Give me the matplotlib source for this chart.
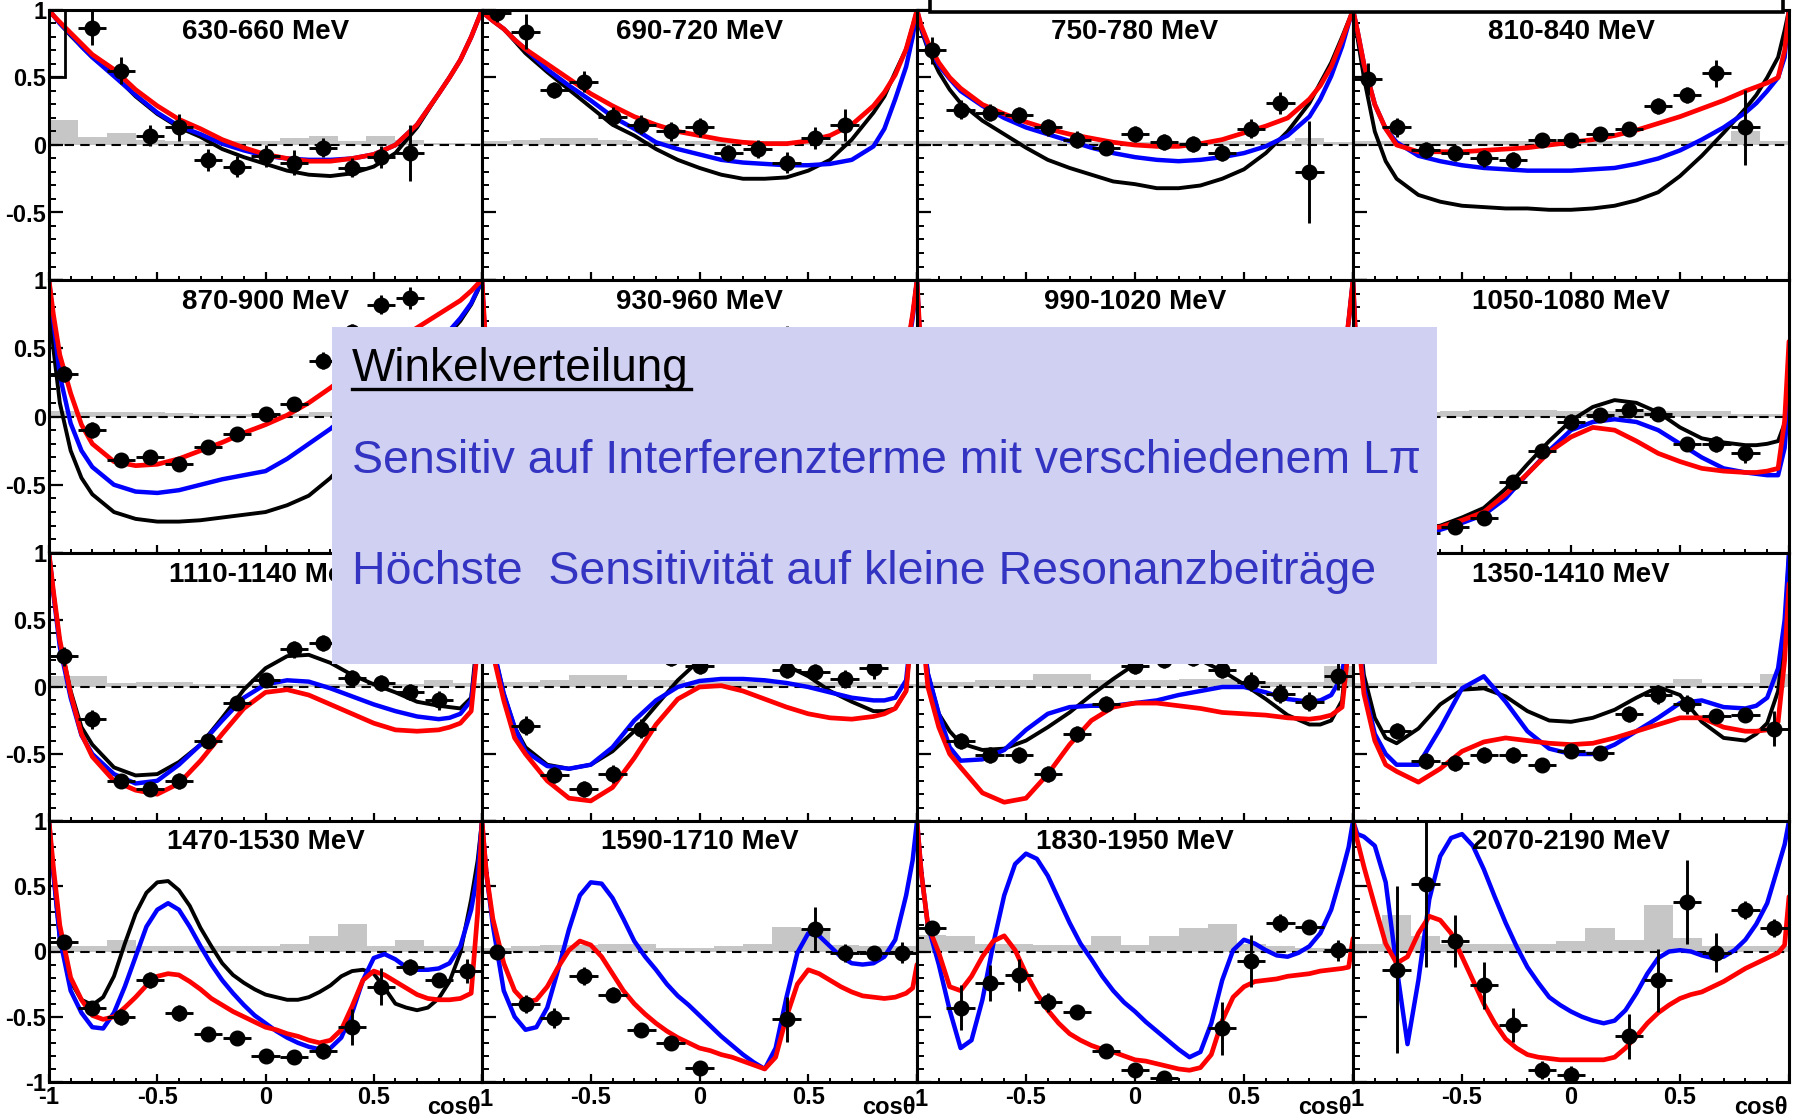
import numpy as np
import matplotlib
matplotlib.use("Agg")
import matplotlib.pyplot as plt
from matplotlib.patches import Rectangle
from matplotlib.lines import Line2D
from matplotlib.ticker import MultipleLocator

plt.rcParams['font.family'] = ['Liberation Sans', 'DejaVu Sans']

# ---------------- data ----------------
# titles of panels 10 and 11 are covered by the text box in the reference
TITLES = ["630-660 MeV", "690-720 MeV", "750-780 MeV", "810-840 MeV",
          "870-900 MeV", "930-960 MeV", "990-1020 MeV", "1050-1080 MeV",
          "1110-1140 MeV", "", "", "1350-1410 MeV",
          "1470-1530 MeV", "1590-1710 MeV", "1830-1950 MeV", "2070-2190 MeV"]

BIN_X = [-0.933, -0.8, -0.667, -0.533, -0.4, -0.267, -0.133, 0.0,
         0.133, 0.267, 0.4, 0.533, 0.667, 0.8, 0.933]

N = None
POINT_Y = [
    [N, 0.87, 0.55, 0.07, 0.13, -0.11, -0.16, -0.08, -0.13, -0.02, -0.17, -0.09, -0.06, N, N],
    [0.98, 0.84, 0.41, 0.47, 0.21, 0.15, 0.10, 0.13, -0.06, -0.03, -0.13, 0.05, 0.15, N, N],
    [0.70, 0.26, 0.24, 0.22, 0.13, 0.04, -0.02, 0.08, 0.02, 0.01, -0.06, 0.12, 0.31, -0.20, N],
    [0.49, 0.13, -0.04, -0.06, -0.10, -0.11, 0.04, 0.04, 0.08, 0.12, 0.29, 0.37, 0.53, 0.13, N],
    [0.31, -0.10, -0.32, -0.30, -0.35, -0.22, -0.13, 0.02, 0.09, 0.41, 0.62, 0.82, 0.87, N, N],
    [N, -0.45, -0.70, -0.75, -0.70, -0.55, -0.35, -0.15, 0.05, 0.20, 0.55, 0.40, 0.30, 0.20, N],
    [N, -0.60, -0.78, -0.82, -0.75, -0.58, -0.36, -0.12, 0.05, 0.12, 0.10, 0.00, -0.05, -0.10, N],
    [N, -0.78, -0.85, -0.81, -0.74, -0.48, -0.25, -0.04, 0.01, 0.05, 0.02, -0.20, -0.20, -0.27, N],
    [0.23, -0.24, -0.70, -0.76, -0.70, -0.40, -0.12, 0.05, 0.28, 0.33, 0.07, 0.03, -0.04, -0.10, N],
    [N, -0.29, -0.66, -0.76, -0.65, -0.31, 0.22, 0.16, 0.30, 0.28, 0.13, 0.11, 0.06, 0.14, N],
    [N, -0.40, -0.51, -0.51, -0.65, -0.35, -0.13, 0.16, 0.20, 0.22, 0.13, 0.04, -0.05, -0.11, 0.08],
    [N, -0.33, -0.55, -0.57, -0.51, -0.51, -0.58, -0.48, -0.49, -0.20, -0.06, -0.13, -0.22, -0.21, -0.31],
    [0.07, -0.43, -0.50, -0.22, -0.47, -0.63, -0.66, -0.80, -0.81, -0.76, -0.58, -0.27, -0.12, -0.22, -0.15],
    [0.00, -0.40, -0.51, -0.19, -0.33, -0.60, -0.70, -0.89, N, N, -0.52, 0.17, -0.01, -0.01, -0.01],
    [0.18, -0.43, -0.24, -0.18, -0.39, -0.46, -0.76, -0.91, -0.97, N, -0.59, -0.07, 0.22, 0.19, 0.01],
    [N, -0.14, 0.52, 0.08, -0.26, -0.56, -0.91, -0.95, N, -0.65, -0.22, 0.38, -0.01, 0.32, 0.18],
]

POINT_ERR = [
    [0, 0.13, 0.10, 0.08, 0.10, 0.08, 0.08, 0.08, 0.09, 0.07, 0.07, 0.08, 0.21, 0, 0],
    [0.07, 0.13, 0.06, 0.08, 0.07, 0.07, 0.07, 0.07, 0.06, 0.07, 0.08, 0.08, 0.12, 0, 0],
    [0.10, 0.07, 0.06, 0.06, 0.06, 0.06, 0.05, 0.06, 0.06, 0.06, 0.06, 0.07, 0.08, 0.38, 0],
    [0.12, 0.07, 0.06, 0.06, 0.06, 0.06, 0.05, 0.05, 0.05, 0.05, 0.06, 0.06, 0.10, 0.28, 0],
    [0.06, 0.06, 0.05, 0.05, 0.05, 0.05, 0.05, 0.05, 0.05, 0.06, 0.06, 0.07, 0.08, 0, 0],
    [0, 0.06, 0.06, 0.06, 0.06, 0.06, 0.06, 0.06, 0.06, 0.06, 0.11, 0.07, 0.07, 0.08, 0],
    [0, 0.06, 0.06, 0.06, 0.06, 0.06, 0.06, 0.06, 0.06, 0.06, 0.06, 0.07, 0.07, 0.08, 0],
    [0, 0.05, 0.05, 0.05, 0.05, 0.05, 0.05, 0.06, 0.05, 0.05, 0.05, 0.05, 0.06, 0.07, 0],
    [0.07, 0.07, 0.05, 0.05, 0.06, 0.05, 0.05, 0.05, 0.06, 0.06, 0.06, 0.06, 0.06, 0.07, 0],
    [0, 0.07, 0.06, 0.06, 0.07, 0.07, 0.06, 0.06, 0.06, 0.06, 0.06, 0.06, 0.07, 0.08, 0],
    [0, 0.06, 0.06, 0.06, 0.06, 0.06, 0.06, 0.06, 0.06, 0.06, 0.06, 0.07, 0.07, 0.07, 0.10],
    [0, 0.06, 0.06, 0.06, 0.06, 0.06, 0.05, 0.05, 0.05, 0.06, 0.07, 0.07, 0.05, 0.05, 0.13],
    [0.05, 0.05, 0.06, 0.06, 0.06, 0.05, 0.05, 0.05, 0.05, 0.06, 0.14, 0.14, 0.06, 0.05, 0.09],
    [0.04, 0.07, 0.08, 0.07, 0.06, 0.05, 0.05, 0.05, 0, 0, 0.17, 0.17, 0.07, 0.05, 0.08],
    [0.05, 0.17, 0.14, 0.12, 0.07, 0.05, 0.05, 0.05, 0.05, 0, 0.20, 0.20, 0.07, 0.05, 0.08],
    [0, 0.64, 0.64, 0.20, 0.18, 0.13, 0.07, 0.07, 0, 0.17, 0.24, 0.32, 0.15, 0.07, 0.07],
]

SYST = [
    [0.185, 0.062, 0.09, 0.04, 0.03, 0.03, 0.03, 0.03, 0.054, 0.067, 0.03, 0.067, 0.04, 0.017, 0.017],
    [0.03, 0.04, 0.05, 0.05, 0.04, 0.03, 0.03, 0.03, 0.03, 0.03, 0.03, 0.03, 0.03, 0.03, 0.03],
    [0.03, 0.03, 0.03, 0.03, 0.03, 0.02, 0.02, 0.02, 0.02, 0.02, 0.03, 0.03, 0.03, 0.05, 0.02],
    [0.03, 0.03, 0.03, 0.03, 0.03, 0.03, 0.03, 0.03, 0.03, 0.03, 0.03, 0.03, 0.03, 0.10, 0.03],
    [0.04, 0.03, 0.03, 0.03, 0.025, 0.02, 0.02, 0.02, 0.02, 0.03, 0.03, 0.03, 0.03, 0.03, 0.03],
    [0.03, 0.03, 0.03, 0.03, 0.03, 0.03, 0.03, 0.03, 0.03, 0.03, 0.03, 0.03, 0.03, 0.03, 0.03],
    [0.03, 0.03, 0.03, 0.03, 0.03, 0.03, 0.03, 0.03, 0.03, 0.03, 0.03, 0.03, 0.03, 0.03, 0.03],
    [0.03, 0.03, 0.03, 0.04, 0.05, 0.05, 0.05, 0.04, 0.04, 0.04, 0.04, 0.04, 0.04, 0.02, 0.02],
    [0.08, 0.08, 0.03, 0.04, 0.04, 0.02, 0.02, 0.02, 0.02, 0.02, 0.02, 0.02, 0.02, 0.05, 0.03],
    [0.04, 0.04, 0.05, 0.09, 0.09, 0.05, 0.05, 0.04, 0.04, 0.04, 0.04, 0.04, 0.04, 0.04, 0.02],
    [0.04, 0.04, 0.05, 0.05, 0.10, 0.10, 0.05, 0.05, 0.05, 0.06, 0.06, 0.04, 0.04, 0.04, 0.16],
    [0.03, 0.03, 0.04, 0.03, 0.03, 0.03, 0.03, 0.03, 0.03, 0.03, 0.03, 0.06, 0.03, 0.03, 0.10],
    [0.04, 0.04, 0.09, 0.04, 0.04, 0.04, 0.04, 0.04, 0.06, 0.12, 0.21, 0.04, 0.09, 0.04, 0.04],
    [0.03, 0.04, 0.05, 0.05, 0.06, 0.06, 0.03, 0.03, 0.04, 0.06, 0.19, 0.17, 0.05, 0.04, 0.04],
    [0.13, 0.12, 0.06, 0.06, 0.05, 0.05, 0.12, 0.05, 0.12, 0.18, 0.21, 0.06, 0.04, 0.03, 0.03],
    [0.06, 0.28, 0.12, 0.06, 0.06, 0.06, 0.06, 0.08, 0.18, 0.09, 0.36, 0.10, 0.04, 0.04, 0.04],
]

# curve sampling in cos(theta): coarse grid (rows 1-3) and fine grid (row 4)
GRID_A = [-1, -0.98, -0.95, -0.9, -0.85, -0.8, -0.7, -0.6, -0.5, -0.4, -0.3, -0.2, -0.1, 0,
          0.1, 0.2, 0.3, 0.4, 0.5, 0.6, 0.7, 0.8, 0.85, 0.9, 0.95, 0.98, 1]
GRID_B = [-1, -0.98, -0.95, -0.9, -0.85, -0.8, -0.75, -0.7, -0.65, -0.6, -0.55, -0.5, -0.45,
          -0.4, -0.35, -0.3, -0.25, -0.2, -0.15, -0.1, -0.05, 0, 0.05, 0.1, 0.15, 0.2, 0.25,
          0.3, 0.35, 0.4, 0.45, 0.5, 0.55, 0.6, 0.65, 0.7, 0.75, 0.8, 0.85, 0.9, 0.95, 0.98, 1]

CURVE_BLACK = [
    [1, 0.96, 0.9, 0.81, 0.73, 0.65, 0.52, 0.36, 0.23, 0.13, 0.06, -0.03, -0.09, -0.14, -0.19, -0.22, -0.23, -0.21, -0.16, -0.06, 0.13, 0.38, 0.5, 0.63, 0.8, 0.92, 1],
    [1, 0.96, 0.92, 0.86, 0.77, 0.68, 0.54, 0.41, 0.28, 0.15, 0.07, -0.03, -0.11, -0.17, -0.22, -0.25, -0.25, -0.24, -0.19, -0.11, 0.04, 0.24, 0.36, 0.54, 0.71, 0.88, 1],
    [1, 0.85, 0.71, 0.54, 0.41, 0.31, 0.18, 0.08, -0.02, -0.11, -0.17, -0.22, -0.27, -0.29, -0.32, -0.32, -0.30, -0.25, -0.18, -0.06, 0.10, 0.31, 0.46, 0.61, 0.80, 0.92, 1],
    [1, 0.8, 0.5, 0.1, -0.12, -0.25, -0.37, -0.42, -0.45, -0.46, -0.47, -0.47, -0.48, -0.48, -0.47, -0.45, -0.41, -0.35, -0.23, -0.08, 0.09, 0.27, 0.37, 0.5, 0.65, 0.85, 1],
    [1, 0.5, 0.1, -0.25, -0.45, -0.57, -0.7, -0.75, -0.77, -0.77, -0.76, -0.74, -0.72, -0.70, -0.65, -0.58, -0.45, -0.28, -0.08, 0.12, 0.32, 0.52, 0.61, 0.70, 0.82, 0.92, 1],
    [1, 0.4, -0.1, -0.5, -0.68, -0.77, -0.84, -0.84, -0.8, -0.72, -0.6, -0.45, -0.28, -0.12, 0.02, 0.12, 0.18, 0.2, 0.17, 0.12, 0.07, 0.05, 0.08, 0.2, 0.45, 0.75, 1],
    [1, 0.35, -0.2, -0.55, -0.72, -0.8, -0.86, -0.86, -0.8, -0.7, -0.55, -0.38, -0.2, -0.05, 0.07, 0.12, 0.12, 0.07, 0.0, -0.06, -0.1, -0.12, -0.1, 0.0, 0.3, 0.7, 1],
    [1, 0.3, -0.3, -0.6, -0.72, -0.78, -0.82, -0.8, -0.74, -0.67, -0.53, -0.35, -0.18, -0.03, 0.07, 0.12, 0.10, 0.03, -0.08, -0.16, -0.19, -0.21, -0.21, -0.2, -0.18, -0.05, 0.3],
    [1, 0.71, 0.34, -0.03, -0.30, -0.43, -0.60, -0.66, -0.65, -0.56, -0.43, -0.23, -0.02, 0.14, 0.23, 0.24, 0.18, 0.09, 0.02, -0.04, -0.11, -0.14, -0.15, -0.16, -0.08, 0.4, 1],
    [1, 0.6, 0.3, -0.05, -0.3, -0.45, -0.58, -0.61, -0.58, -0.48, -0.33, -0.14, 0.05, 0.2, 0.3, 0.33, 0.3, 0.16, 0.08, -0.03, -0.11, -0.18, -0.18, -0.16, -0.03, 0.5, 1],
    [1, 0.5, 0.1, -0.2, -0.33, -0.42, -0.47, -0.46, -0.40, -0.30, -0.19, -0.06, 0.06, 0.17, 0.27, 0.3, 0.2, 0.12, 0.02, -0.09, -0.21, -0.28, -0.28, -0.25, -0.1, 0.4, 1],
    [1, 0.55, 0.09, -0.23, -0.38, -0.42, -0.31, -0.13, -0.02, -0.01, -0.07, -0.18, -0.25, -0.26, -0.23, -0.17, -0.08, 0.0, -0.06, -0.26, -0.38, -0.40, -0.35, -0.27, -0.03, 0.4, 1],
    [1, 0.6, 0.1, -0.23, -0.37, -0.41, -0.35, -0.19, 0.06, 0.29, 0.45, 0.53, 0.54, 0.47, 0.35, 0.18, 0.04, -0.09, -0.18, -0.24, -0.29, -0.33, -0.35, -0.37, -0.37, -0.35, -0.31, -0.26, -0.19, -0.15, -0.14, -0.17, -0.28, -0.40, -0.43, -0.45, -0.43, -0.36, -0.23, -0.01, 0.40, 0.7, 1],
    None, None, None,
]

CURVE_BLUE = [
    [1, 0.96, 0.9, 0.82, 0.73, 0.65, 0.51, 0.37, 0.24, 0.14, 0.08, 0.01, -0.04, -0.08, -0.1, -0.11, -0.11, -0.1, -0.07, 0.0, 0.15, 0.38, 0.5, 0.63, 0.8, 0.92, 1],
    [1, 0.96, 0.92, 0.86, 0.78, 0.71, 0.56, 0.44, 0.33, 0.21, 0.12, 0.02, -0.03, -0.07, -0.11, -0.13, -0.14, -0.15, -0.15, -0.14, -0.11, -0.01, 0.12, 0.34, 0.58, 0.8, 1],
    [1, 0.87, 0.73, 0.59, 0.49, 0.40, 0.29, 0.20, 0.13, 0.08, 0.03, -0.02, -0.06, -0.09, -0.11, -0.12, -0.11, -0.09, -0.06, -0.01, 0.07, 0.21, 0.34, 0.51, 0.73, 0.9, 1],
    [1, 0.85, 0.6, 0.3, 0.12, 0.02, -0.08, -0.12, -0.15, -0.17, -0.18, -0.19, -0.19, -0.19, -0.18, -0.17, -0.14, -0.10, -0.04, 0.04, 0.13, 0.24, 0.31, 0.40, 0.50, 0.65, 1],
    [1, 0.7, 0.3, -0.05, -0.25, -0.37, -0.5, -0.55, -0.56, -0.54, -0.5, -0.46, -0.43, -0.40, -0.31, -0.2, -0.09, 0.04, 0.17, 0.3, 0.43, 0.56, 0.63, 0.72, 0.83, 0.93, 1],
    [1, 0.4, -0.1, -0.5, -0.68, -0.76, -0.8, -0.78, -0.72, -0.62, -0.5, -0.36, -0.22, -0.1, 0.0, 0.06, 0.08, 0.07, 0.03, -0.02, -0.06, -0.07, -0.04, 0.08, 0.4, 0.72, 1],
    [1, 0.35, -0.2, -0.55, -0.72, -0.8, -0.85, -0.84, -0.78, -0.67, -0.52, -0.36, -0.2, -0.08, 0.0, 0.03, 0.02, -0.02, -0.08, -0.14, -0.18, -0.2, -0.18, -0.05, 0.3, 0.7, 1],
    [1, 0.3, -0.3, -0.6, -0.73, -0.8, -0.84, -0.83, -0.78, -0.72, -0.6, -0.42, -0.25, -0.1, -0.04, -0.02, -0.04, -0.1, -0.2, -0.3, -0.38, -0.41, -0.42, -0.43, -0.43, -0.23, 0.17],
    [1, 0.70, 0.30, -0.08, -0.36, -0.50, -0.65, -0.72, -0.70, -0.58, -0.43, -0.25, -0.08, 0.02, 0.05, 0.04, -0.01, -0.07, -0.13, -0.18, -0.22, -0.24, -0.23, -0.2, -0.1, 0.3, 1],
    [1, 0.6, 0.3, -0.05, -0.3, -0.48, -0.59, -0.61, -0.58, -0.45, -0.25, -0.1, 0.0, 0.045, 0.06, 0.06, 0.05, 0.03, 0.0, -0.04, -0.08, -0.1, -0.1, -0.08, 0.05, 0.5, 1],
    [1, 0.5, 0.1, -0.2, -0.45, -0.55, -0.54, -0.47, -0.32, -0.2, -0.15, -0.14, -0.14, -0.12, -0.1, -0.06, -0.03, 0.0, 0.0, -0.04, -0.09, -0.11, -0.1, -0.06, 0.08, 0.5, 1],
    [1, 0.5, 0.0, -0.35, -0.5, -0.58, -0.58, -0.31, -0.01, 0.08, -0.11, -0.33, -0.46, -0.5, -0.5, -0.43, -0.33, -0.23, -0.12, -0.1, -0.15, -0.16, -0.14, -0.08, 0.14, 0.5, 1],
    [1, 0.6, 0.1, -0.3, -0.47, -0.58, -0.59, -0.47, -0.27, -0.04, 0.19, 0.32, 0.37, 0.32, 0.19, 0.04, -0.10, -0.22, -0.32, -0.41, -0.49, -0.55, -0.61, -0.66, -0.70, -0.73, -0.75, -0.74, -0.66, -0.47, -0.22, -0.05, -0.02, -0.06, -0.12, -0.14, -0.14, -0.13, -0.09, 0.04, 0.32, 0.6, 1],
    [1, 0.6, 0.2, -0.3, -0.50, -0.60, -0.58, -0.43, -0.14, 0.17, 0.43, 0.53, 0.52, 0.41, 0.25, 0.08, -0.04, -0.14, -0.25, -0.34, -0.41, -0.49, -0.57, -0.65, -0.72, -0.79, -0.85, -0.90, -0.74, -0.35, -0.01, 0.14, 0.12, 0.04, -0.04, -0.09, -0.10, -0.09, -0.04, 0.09, 0.43, 0.7, 1],
    [1, 0.6, 0.2, -0.1, -0.45, -0.74, -0.68, -0.37, 0.06, 0.43, 0.67, 0.75, 0.71, 0.58, 0.40, 0.22, 0.06, -0.06, -0.19, -0.30, -0.39, -0.46, -0.54, -0.61, -0.68, -0.75, -0.81, -0.77, -0.55, -0.22, 0.01, 0.09, 0.06, 0.01, -0.03, -0.04, -0.01, 0.04, 0.14, 0.32, 0.61, 0.8, 1],
    [1, 0.9, 0.88, 0.81, 0.53, -0.12, -0.71, -0.22, 0.40, 0.73, 0.87, 0.90, 0.81, 0.63, 0.42, 0.22, 0.04, -0.12, -0.24, -0.35, -0.41, -0.46, -0.50, -0.53, -0.55, -0.53, -0.45, -0.32, -0.17, -0.05, 0.0, 0.01, 0.0, -0.03, -0.05, -0.04, 0.01, 0.09, 0.21, 0.37, 0.65, 0.82, 1],
]

CURVE_RED = [
    [1, 0.96, 0.91, 0.83, 0.75, 0.67, 0.56, 0.41, 0.29, 0.19, 0.12, 0.04, -0.02, -0.07, -0.1, -0.12, -0.12, -0.1, -0.07, 0.0, 0.15, 0.38, 0.5, 0.63, 0.8, 0.92, 1],
    [1, 0.96, 0.92, 0.86, 0.78, 0.71, 0.60, 0.49, 0.38, 0.29, 0.21, 0.15, 0.10, 0.07, 0.04, 0.02, 0.01, 0.01, 0.03, 0.07, 0.15, 0.29, 0.39, 0.52, 0.71, 0.88, 1],
    [1, 0.88, 0.76, 0.61, 0.50, 0.42, 0.30, 0.23, 0.17, 0.12, 0.08, 0.05, 0.02, 0.0, -0.01, -0.01, 0.01, 0.04, 0.09, 0.14, 0.20, 0.34, 0.44, 0.58, 0.78, 0.91, 1],
    [1, 0.85, 0.6, 0.3, 0.12, 0.0, -0.05, -0.05, -0.05, -0.04, -0.03, -0.02, 0.0, 0.02, 0.04, 0.07, 0.11, 0.16, 0.21, 0.27, 0.33, 0.40, 0.43, 0.46, 0.50, 0.7, 1],
    [1, 0.75, 0.45, 0.17, -0.06, -0.2, -0.33, -0.36, -0.35, -0.31, -0.25, -0.19, -0.12, -0.06, 0.01, 0.1, 0.21, 0.33, 0.45, 0.55, 0.65, 0.75, 0.8, 0.85, 0.92, 0.97, 1],
    [1, 0.45, -0.05, -0.45, -0.65, -0.75, -0.8, -0.8, -0.75, -0.66, -0.54, -0.4, -0.27, -0.15, -0.06, 0.0, 0.02, 0.0, -0.04, -0.08, -0.1, -0.1, -0.05, 0.1, 0.45, 0.75, 1],
    [1, 0.4, -0.15, -0.5, -0.7, -0.78, -0.84, -0.84, -0.79, -0.69, -0.55, -0.4, -0.25, -0.12, -0.04, -0.02, -0.05, -0.1, -0.16, -0.22, -0.25, -0.26, -0.22, -0.1, 0.3, 0.7, 1],
    [1, 0.3, -0.3, -0.6, -0.72, -0.78, -0.82, -0.81, -0.76, -0.7, -0.57, -0.42, -0.26, -0.15, -0.08, -0.1, -0.18, -0.27, -0.33, -0.38, -0.4, -0.41, -0.41, -0.4, -0.38, -0.03, 0.55],
    [1, 0.72, 0.35, -0.05, -0.35, -0.52, -0.70, -0.77, -0.80, -0.72, -0.55, -0.35, -0.16, -0.04, -0.02, -0.06, -0.13, -0.20, -0.27, -0.32, -0.33, -0.32, -0.3, -0.27, -0.18, 0.3, 1],
    [1, 0.6, 0.25, -0.1, -0.38, -0.5, -0.70, -0.83, -0.85, -0.75, -0.53, -0.28, -0.09, 0.0, 0.01, -0.03, -0.09, -0.15, -0.2, -0.23, -0.24, -0.22, -0.2, -0.16, -0.03, 0.5, 1],
    [1, 0.5, 0.0, -0.3, -0.5, -0.6, -0.79, -0.86, -0.83, -0.65, -0.43, -0.25, -0.15, -0.12, -0.12, -0.14, -0.16, -0.19, -0.2, -0.21, -0.23, -0.24, -0.23, -0.21, -0.15, 0.3, 1],
    [1, 0.45, -0.05, -0.4, -0.58, -0.63, -0.71, -0.61, -0.48, -0.41, -0.38, -0.40, -0.42, -0.43, -0.42, -0.38, -0.33, -0.28, -0.23, -0.23, -0.3, -0.33, -0.33, -0.32, -0.26, 0.2, 0.77],
    [1, 0.65, 0.2, -0.2, -0.37, -0.49, -0.52, -0.50, -0.43, -0.35, -0.26, -0.19, -0.17, -0.18, -0.23, -0.29, -0.36, -0.41, -0.46, -0.50, -0.54, -0.58, -0.60, -0.63, -0.65, -0.68, -0.70, -0.68, -0.60, -0.42, -0.22, -0.15, -0.18, -0.23, -0.28, -0.33, -0.36, -0.37, -0.37, -0.36, -0.32, 0.3, 1],
    [1, 0.6, 0.25, -0.09, -0.30, -0.39, -0.37, -0.27, -0.12, 0.01, 0.08, 0.05, -0.04, -0.17, -0.30, -0.40, -0.48, -0.55, -0.61, -0.66, -0.70, -0.74, -0.76, -0.79, -0.81, -0.84, -0.87, -0.90, -0.81, -0.50, -0.25, -0.14, -0.17, -0.22, -0.27, -0.31, -0.34, -0.35, -0.36, -0.35, -0.32, -0.28, -0.1],
    [1, 0.6, 0.2, -0.01, -0.27, -0.30, -0.19, -0.04, 0.08, 0.12, 0.01, -0.17, -0.32, -0.45, -0.55, -0.63, -0.68, -0.72, -0.75, -0.77, -0.80, -0.83, -0.84, -0.86, -0.88, -0.90, -0.91, -0.89, -0.79, -0.53, -0.35, -0.27, -0.23, -0.22, -0.21, -0.19, -0.18, -0.17, -0.15, -0.14, -0.13, -0.12, 0.1],
    [1, 0.85, 0.65, 0.35, 0.06, -0.09, -0.04, 0.14, 0.27, 0.24, 0.14, -0.04, -0.22, -0.40, -0.55, -0.67, -0.74, -0.79, -0.81, -0.82, -0.83, -0.83, -0.83, -0.83, -0.83, -0.81, -0.74, -0.65, -0.55, -0.47, -0.41, -0.36, -0.33, -0.31, -0.27, -0.23, -0.18, -0.13, -0.09, -0.05, -0.01, 0.05, 0.42],
]

Y_TICKS = [-1, -0.5, 0, 0.5, 1]
Y_LABELS = ["-1", "-0.5", "0", "0.5", "1"]
X_TICKS = [-1, -0.5, 0, 0.5, 1]
X_LABELS = ["-1", "-0.5", "0", "0.5", "1"]
X_TITLE = "cos\u03b8"

BOX_HEAD = "Winkelverteilung"
BOX_LINE1 = "Sensitiv auf Interferenzterme mit verschiedenem L\u03c0"
BOX_LINE2 = "H\u00f6chste  Sensitivit\u00e4t auf kleine Resonanzbeitr\u00e4ge"

# ---------------- layout ----------------
W, H = 1795, 1117
COL_EDGES = [49, 482, 917, 1353, 1789]
ROW_EDGES = [10, 280, 553, 821, 1082]
LABEL_FONT = dict(fontsize=17, fontweight="bold")

fig = plt.figure(figsize=(W / 100, H / 100), dpi=100)
fig.patch.set_facecolor("white")

GREY = "#c6c6c6"
BW = 2.0 / 15

for i in range(16):
    r, c = divmod(i, 4)
    x0, x1 = COL_EDGES[c], COL_EDGES[c + 1]
    y0, y1 = ROW_EDGES[r], ROW_EDGES[r + 1]
    ax = fig.add_axes([x0 / W, 1 - y1 / H, (x1 - x0) / W, (y1 - y0) / H])
    ax.set_facecolor("white")

    ax.bar(BIN_X, SYST[i], width=BW, color=GREY, linewidth=0, zorder=1)
    ax.axhline(0, color="black", lw=1.5, ls=(0, (4.5, 3)), zorder=2)

    for curve, col, lw in ((CURVE_BLACK[i], "black", 2.8),
                           (CURVE_BLUE[i], "#0000ff", 3.2),
                           (CURVE_RED[i], "#ff0000", 3.4)):
        if curve is None:
            continue
        grid = GRID_A if len(curve) == len(GRID_A) else GRID_B
        ax.plot(grid, curve, color=col, lw=lw, zorder=3,
                solid_joinstyle="round", solid_capstyle="round")

    py = np.array(POINT_Y[i], dtype=float)
    pe = np.array(POINT_ERR[i], dtype=float)
    bx = np.array(BIN_X)
    m = ~np.isnan(py)
    ax.errorbar(bx[m], py[m], yerr=pe[m], xerr=0.065, fmt="o", color="black",
                ms=10.5, elinewidth=2.1, capsize=0, zorder=4)

    if i == 0:
        ax.add_patch(Rectangle((-1, 0.5), 0.074, 0.5, fill=False, ec="black",
                               lw=2.0, zorder=5))

    if TITLES[i]:
        ax.text(0.5, 0.918, TITLES[i], transform=ax.transAxes, ha="center",
                va="center", fontsize=20, fontweight="bold", zorder=6)

    for s in ax.spines.values():
        s.set_linewidth(2.2)
        s.set_zorder(7)

    # y ticks / labels
    if c == 0:
        ylab = list(Y_LABELS)
        if r < 3:
            ylab[0] = ""
        ax.set_yticks(Y_TICKS, labels=ylab, **LABEL_FONT)
    else:
        ax.set_yticks(Y_TICKS, labels=[""] * len(Y_TICKS))

    # x ticks / labels
    if r == 3:
        xlab = list(X_LABELS)
        xlab[4] = ""
        if c > 0:
            xlab[0] = ""
            ax.annotate(X_LABELS[4], xy=(-1, 0), xycoords=("data", "axes fraction"),
                        xytext=(3, -4), textcoords="offset points", ha="center",
                        va="top", zorder=8, **LABEL_FONT)
        ax.set_xticks(X_TICKS, labels=xlab, **LABEL_FONT)
        ax.annotate(X_TITLE, xy=(1, 0), xycoords="axes fraction",
                    xytext=(-1, -23), textcoords="offset points", ha="right",
                    va="baseline", fontsize=17, fontweight="bold")
    else:
        ax.set_xticks(X_TICKS, labels=[""] * len(X_TICKS))

    ax.yaxis.set_minor_locator(MultipleLocator(0.1))
    ax.xaxis.set_minor_locator(MultipleLocator(0.1))
    ax.tick_params(which="both", direction="in", top=False, right=False)
    ax.tick_params(axis="y", which="major", length=10, width=1.6, pad=2)
    ax.tick_params(axis="y", which="minor", length=5, width=1.4)
    ax.tick_params(axis="x", which="major", length=6, width=1.6, pad=3)
    ax.tick_params(axis="x", which="minor", length=3, width=1.4)
    ax.set_xlim(-1, 1)
    ax.set_ylim(-1, 1)

# top-right frame (part of slide)
fig.patches.append(Rectangle((930 / W, 1 - 12 / H), (1783 - 930) / W, 20 / H,
                             transform=fig.transFigure, facecolor="white",
                             edgecolor="black", lw=2.6, zorder=10))

# overlay text box
fig.patches.append(Rectangle((332 / W, 1 - 664 / H), (1437 - 332) / W, (664 - 327) / H,
                             transform=fig.transFigure, facecolor="#d0d0f2",
                             edgecolor="none", zorder=10))
fig.text(352 / W, 1 - 381 / H, BOX_HEAD, fontsize=33, color="black",
         va="baseline", ha="left", zorder=11)
fig.lines.append(Line2D([352 / W, 691 / W], [1 - 389 / H, 1 - 389 / H],
                        transform=fig.transFigure, color="black", lw=2.4, zorder=11))
fig.text(352 / W, 1 - 473 / H, BOX_LINE1, fontsize=33.5, color="#3434c2",
         va="baseline", ha="left", zorder=11)
fig.text(352 / W, 1 - 584 / H, BOX_LINE2, fontsize=33.5, color="#3434c2",
         va="baseline", ha="left", zorder=11)

fig.savefig("out.png", dpi=100, facecolor="white")
